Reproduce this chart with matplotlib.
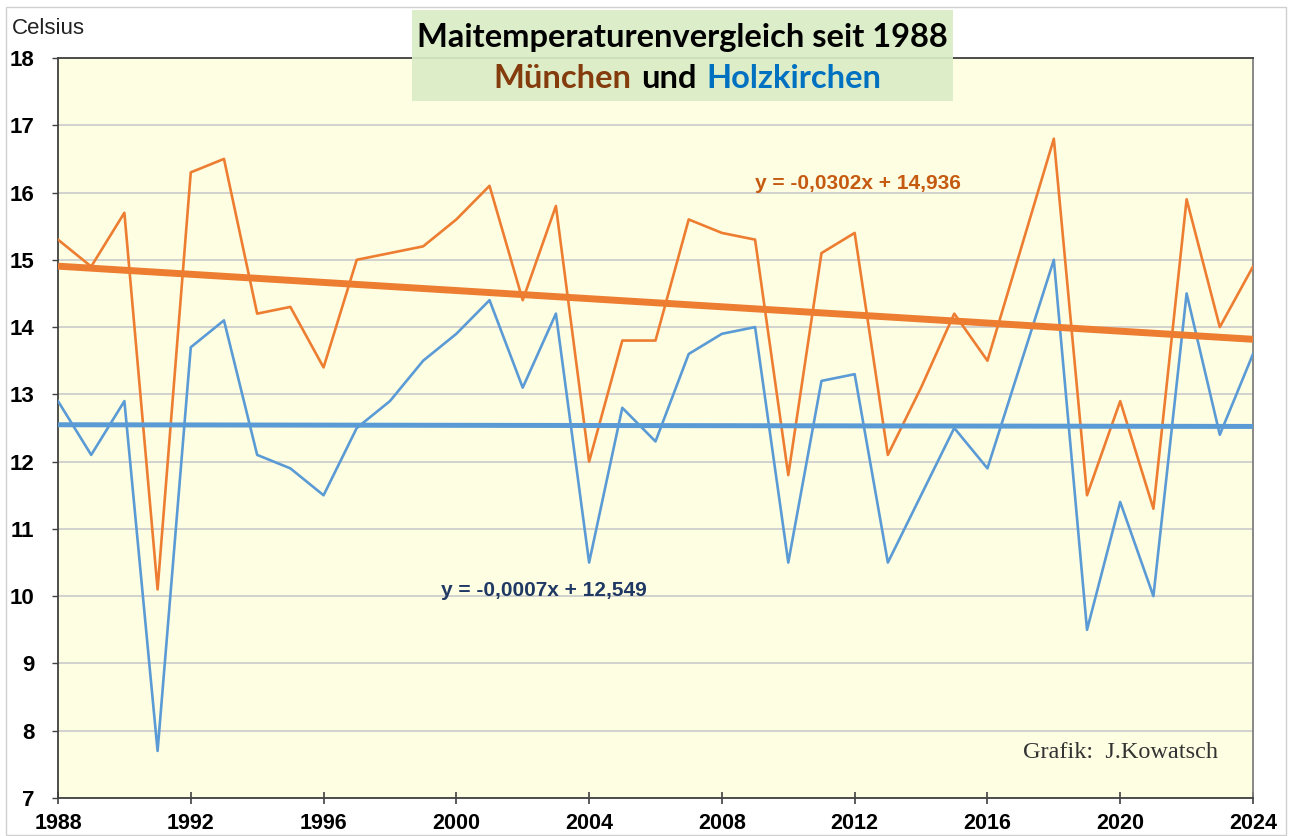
import matplotlib.pyplot as plt
import numpy as np
from matplotlib.patches import Rectangle
from matplotlib.offsetbox import TextArea, HPacker, AnnotationBbox

plt.rcParams['font.family'] = ['Liberation Sans', 'DejaVu Sans']

years = np.arange(1988, 2025)
muenchen = [15.3, 14.9, 15.7, 10.1, 16.3, 16.5, 14.2, 14.3, 13.4, 15.0,
            15.1, 15.2, 15.6, 16.1, 14.4, 15.8, 12.0, 13.8, 13.8, 15.6,
            15.4, 15.3, 11.8, 15.1, 15.4, 12.1, 13.1, 14.2, 13.5, 15.15,
            16.8, 11.5, 12.9, 11.3, 15.9, 14.0, 14.9]
holzkirchen = [12.9, 12.1, 12.9, 7.7, 13.7, 14.1, 12.1, 11.9, 11.5, 12.5,
               12.9, 13.5, 13.9, 14.4, 13.1, 14.2, 10.5, 12.8, 12.3, 13.6,
               13.9, 14.0, 10.5, 13.2, 13.3, 10.5, 11.5, 12.5, 11.9, 13.45,
               15.0, 9.5, 11.4, 10.0, 14.5, 12.4, 13.6]
# Excel trend lines, x = 1 .. n
trend_muc = (-0.0302, 14.936)
trend_holz = (-0.0007, 12.549)
label_muc = "y = -0,0302x + 14,936"
label_holz = "y = -0,0007x + 12,549"
x_ticks = np.arange(1988, 2025, 4)
y_ticks = np.arange(7, 19, 1)

c_muc = '#ED7D31'
c_holz = '#5B9BD5'

fig = plt.figure(figsize=(12.9, 8.36), dpi=100)
ax = fig.add_axes([58 / 1290, 1 - 798 / 836, (1253 - 58) / 1290, (798 - 58) / 836])
ax.set_facecolor('#FEFEE3')

idx = np.arange(1, len(years) + 1)
ax.plot(years, muenchen, color=c_muc, lw=1.9, zorder=3)
ax.plot(years, holzkirchen, color=c_holz, lw=1.9, zorder=3)
ax.plot(years, trend_muc[0] * idx + trend_muc[1], color=c_muc, lw=5.0, zorder=4,
        solid_capstyle='butt')
ax.plot(years, trend_holz[0] * idx + trend_holz[1], color=c_holz, lw=3.6, zorder=4,
        solid_capstyle='butt')

ax.set_xlim(1988, 2024)
ax.set_ylim(7, 18)
ax.set_xticks(x_ticks)
ax.set_yticks(y_ticks)
ax.yaxis.grid(True, color='#CACACA', lw=1.2)
ax.set_axisbelow(True)
for s in ax.spines.values():
    s.set_color('#404040')
    s.set_linewidth(1.3)
ax.spines['right'].set_color('#7F7F7F')
ax.tick_params(axis='x', direction='inout', length=9, width=1.2, color='#404040',
               labelsize=15.5, pad=6)
ax.tick_params(axis='y', direction='out', length=4, width=1.0, color='#404040',
               labelsize=16, pad=13)
for lbl in ax.get_xticklabels() + ax.get_yticklabels():
    lbl.set_fontweight('bold')

ax.text(2009.0, 16.14, label_muc, color='#C55A11', fontsize=15, fontweight='bold',
        ha='left', va='center', zorder=5)
ax.text(1999.55, 10.09, label_holz, color='#1F3864', fontsize=15, fontweight='bold',
        ha='left', va='center', zorder=5)
ax.text(2020.0, 7.68, "Grafik:  J.Kowatsch", family='Liberation Serif', fontsize=17.5,
        color='#333333', ha='center', va='center', zorder=5)

fig.text(12 / 1290, 1 - 28 / 836, "Celsius", fontsize=16, color='#222222',
         ha='left', va='center')

# title box
fig.add_artist(Rectangle((412 / 1290, 1 - 101 / 836), (953 - 412) / 1290, 91 / 836,
                         transform=fig.transFigure, facecolor='#D9ECC6', alpha=0.92,
                         edgecolor='none', zorder=6))
fig.text(682 / 1290, 1 - 37 / 836, "Maitemperaturenvergleich seit 1988", family='Lato',
         fontweight='bold', fontsize=23.5, color='black', ha='center', va='center', zorder=7)
parts = [TextArea("München", textprops=dict(color='#843C0C', family='Lato', fontweight='bold', fontsize=23.5)),
         TextArea("und", textprops=dict(color='black', family='Lato', fontweight='bold', fontsize=23.5)),
         TextArea("Holzkirchen", textprops=dict(color='#0070C0', family='Lato', fontweight='bold', fontsize=23.5))]
pack = HPacker(children=parts, align='baseline', pad=0, sep=7)
ab = AnnotationBbox(pack, (687 / 1290, 1 - 79 / 836), xycoords='figure fraction',
                    frameon=False, box_alignment=(0.5, 0.5), zorder=7)
fig.add_artist(ab)

# thin outer frame
fig.add_artist(Rectangle((6 / 1290, 1 / 836), 1280 / 1290, 828 / 836, transform=fig.transFigure,
                         fill=False, edgecolor='#D0D0D0', lw=1.0))

fig.savefig("out.png", dpi=100)
